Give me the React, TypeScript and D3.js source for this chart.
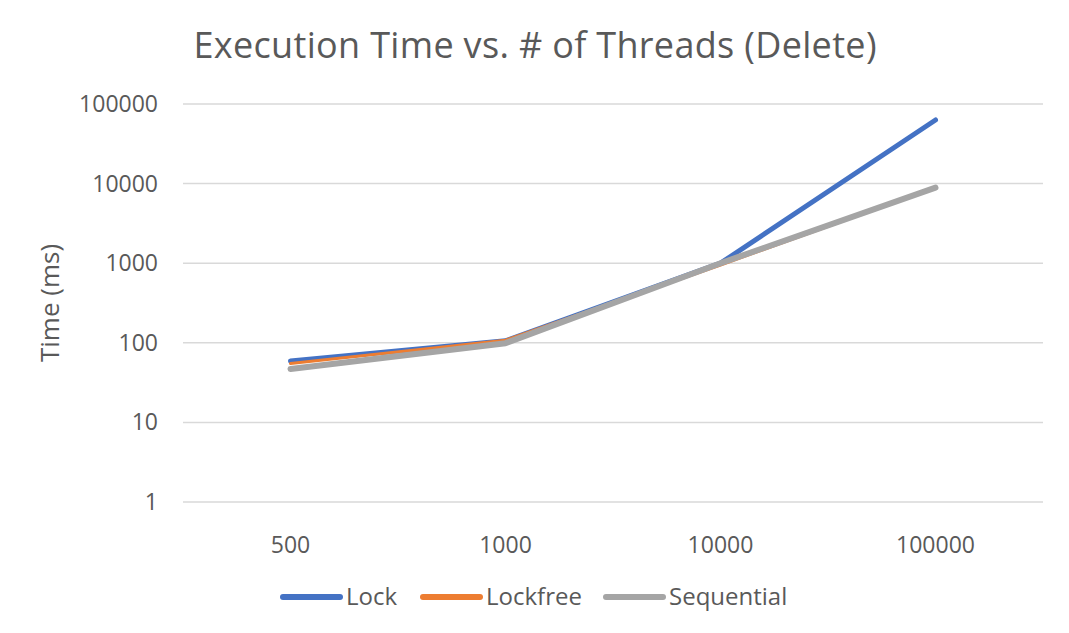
import * as d3 from "d3";

// chart values
const threads = ["500", "1000", "10000", "100000"];
const lockTimes = [59, 106, 1000, 63000];
const lockfreeTimes = [55, 108, 950, 8900];
const sequentialTimes = [47, 99, 1000, 8900];
const yTicks = [1, 10, 100, 1000, 10000, 100000];

const series = [
  { name: "Lock", values: lockTimes, color: "#4472C4", width: 5 },
  { name: "Lockfree", values: lockfreeTimes, color: "#ED7D31", width: 3 },
  { name: "Sequential", values: sequentialTimes, color: "#A5A5A5", width: 6 },
];

const width = 1069, height = 633;
const margin = { left: 183, right: 26, top: 104, bottom: 131 };
const font = "'Open Sans', 'Noto Sans', sans-serif";
const textColor = "#595959";

export default function App() {
  const x = d3.scaleBand()
    .domain(threads)
    .range([margin.left, width - margin.right]);
  const y = d3.scaleLog()
    .domain([1, 100000])
    .range([height - margin.bottom, margin.top]);

  const line = d3.line<number>()
    .x((d, i) => x(threads[i])! + x.bandwidth() / 2)
    .y((d) => y(d));

  const legendX = [280, 420, 603];

  return (
    <svg width={width} height={height} style={{ position: "absolute", left: 0, top: 0, background: "#fff" }}
      fontFamily={font}>
      <text x={535} y={58} textAnchor="middle" fontSize={36} fill={textColor} textLength={683}>
        Execution Time vs. # of Threads (Delete)
      </text>

      {/* grid */}
      {yTicks.map((t) => (
        <g key={t}>
          <line x1={margin.left} x2={width - margin.right} y1={y(t)} y2={y(t)} stroke="#D9D9D9" strokeWidth={1.5} />
          <text x={158} y={y(t)} dy="0.35em" textAnchor="end" fontSize={23} fill={textColor}>{t}</text>
        </g>
      ))}

      {/* x labels */}
      {threads.map((c) => (
        <text key={c} x={x(c)! + x.bandwidth() / 2} y={545} dy="0.35em" textAnchor="middle" fontSize={23} fill={textColor}>{c}</text>
      ))}

      <text transform={`translate(50,${(margin.top + height - margin.bottom) / 2}) rotate(-90)`}
        textAnchor="middle" dy="0.35em" fontSize={26} fill={textColor}>Time (ms)</text>

      {series.map((s) => (
        <path key={s.name} d={line(s.values)!} fill="none" stroke={s.color}
          strokeWidth={s.width} strokeLinecap="round" strokeLinejoin="round" />
      ))}

      {/* legend */}
      {series.map((s, i) => (
        <g key={s.name} transform={`translate(${legendX[i]},597)`}>
          <line x1={3} x2={60} y1={0} y2={0} stroke={s.color} strokeWidth={6} strokeLinecap="round" />
          <text x={66} y={0} dy="0.35em" fontSize={24} fill={textColor}>{s.name}</text>
        </g>
      ))}
    </svg>
  );
}
